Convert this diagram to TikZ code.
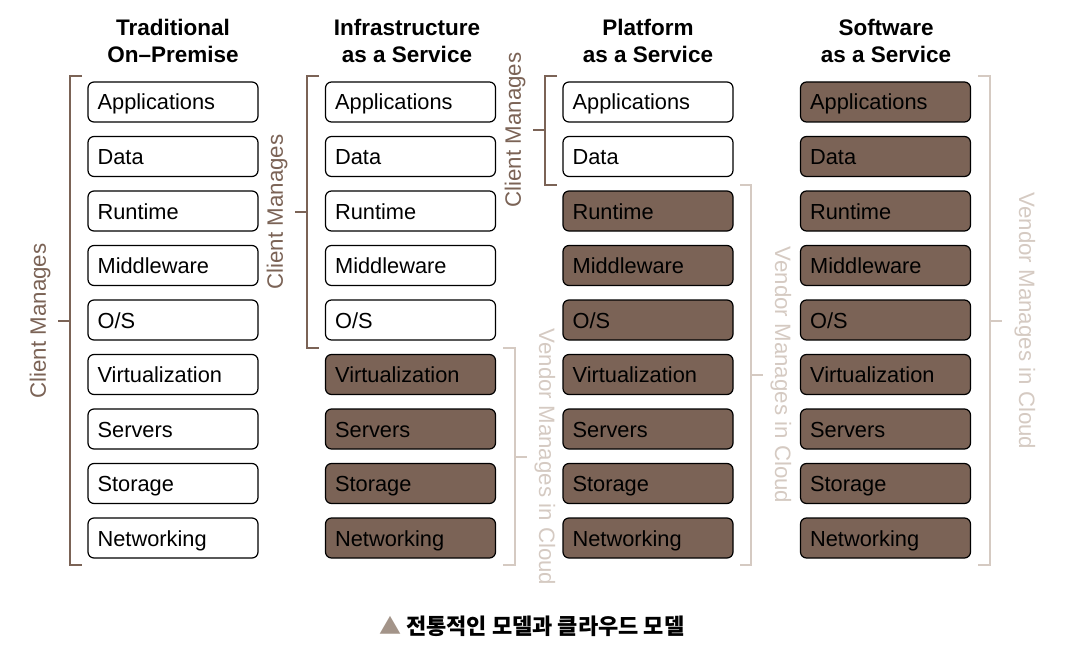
\documentclass[tikz,border=0pt]{standalone}
\usepackage{fontspec}
\setmainfont{Liberation Sans}
\newfontfamily\krfont{Noto Sans CJK KR}
\definecolor{dbrown}{RGB}{123,99,86}
\definecolor{lbrown}{RGB}{213,202,194}
\definecolor{tri}{RGB}{163,148,137}
\begin{document}
\begin{tikzpicture}[x=1pt,y=-1pt,
  layer/.style={draw=black,line width=1.2pt,rounded corners=6pt,minimum width=170pt,minimum height=40pt,
     inner sep=0pt},
  userbox/.style={layer,fill=white},
  vendbox/.style={layer,fill=dbrown},
  ltext/.style={anchor=base west,inner sep=0pt,font=\fontsize{21.8}{24}\selectfont},
  head/.style={font=\fontsize{22.5}{27}\selectfont\bfseries,align=center},
  cbr/.style={draw=dbrown,line width=2.4pt},
  vbr/.style={draw=lbrown,line width=2.4pt},
  clabel/.style={text=dbrown,font=\fontsize{22.3}{24}\selectfont},
  vlabel/.style={text=lbrown,font=\fontsize{22.3}{24}\selectfont}]
\useasboundingbox (0,0) rectangle (1068,658);
% headers
\node[head] (h1) at (173,41) {Traditional\\On--Premise};
\node[head] (h2) at (407,41) {Infrastructure\\as a Service};
\node[head] (h3) at (648,41) {Platform\\as a Service};
\node[head] (h4) at (886,41) {Software\\as a Service};
% boxes
\def\layers{Applications,Data,Runtime,Middleware,O/S,Virtualization,Servers,Storage,Networking}
\foreach \col/\cx/\nv in {1/173/10,2/410.5/6,3/648/3,4/885.5/1}{
  \foreach \lab [count=\i] in \layers {
    \pgfmathsetmacro{\yy}{102+(\i-1)*54.5}
    \ifnum\i<\nv
      \node[userbox] (c\col r\i) at (\cx,\yy) {};
    \else
      \node[vendbox] (c\col r\i) at (\cx,\yy) {};
    \fi
    \node[ltext] (t\col r\i) at ([xshift=10pt,yshift=-8pt]c\col r\i.west) {\lab};
  }
}
% column 1 client bracket
\draw[cbr] (82,76) -- (70,76) -- (70,565) -- (82,565);
\draw[cbr] (70,321) -- (58,321);
\node[clabel,rotate=90] (l1) at (40,321) {Client Manages};
% column 2 client bracket
\draw[cbr] (319,76) -- (307,76) -- (307,348) -- (319,348);
\draw[cbr] (307,212) -- (295,212);
\node[clabel,rotate=90] (l2) at (277,212) {Client Manages};
% column 2 vendor bracket
\draw[vbr] (503,348) -- (515,348) -- (515,565) -- (503,565);
\draw[vbr] (515,457) -- (527,457);
\node[vlabel,rotate=-90] (l3) at (545,457) {Vendor Manages in Cloud};
% column 3 client bracket
\draw[cbr] (557,76) -- (545,76) -- (545,185) -- (557,185);
\draw[cbr] (545,130) -- (533,130);
\node[clabel,rotate=90] (l4) at (515,130) {Client Manages};
% column 3 vendor bracket
\draw[vbr] (740,185) -- (751,185) -- (751,565) -- (740,565);
\draw[vbr] (751,375) -- (763,375);
\node[vlabel,rotate=-90] (l5) at (781,375) {Vendor Manages in Cloud};
% column 4 vendor bracket
\draw[vbr] (978,76) -- (990,76) -- (990,565) -- (978,565);
\draw[vbr] (990,321) -- (1002,321);
\node[vlabel,rotate=-90] (l6) at (1025,321) {Vendor Manages in Cloud};
% caption
\node[anchor=west,inner sep=0pt,font=\fontsize{22}{26}\selectfont\krfont\bfseries] (cap) at (379,626) {{\color{tri}▲} 전통적인 모델과 클라우드 모델};
\end{tikzpicture}
\end{document}
